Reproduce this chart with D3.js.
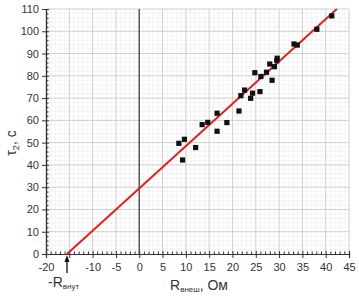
<!DOCTYPE html>
<html><head><meta charset="utf-8">
<script src="https://cdn.jsdelivr.net/npm/d3@7"></script>
<style>body{margin:0;background:#fff}svg{display:block}</style>
</head><body>
<script>
const rExt = [8.5, 9.7, 9.3, 12.1, 13.5, 14.7, 16.7, 16.7, 18.8, 21.4, 21.8, 22.6, 23.9, 24.3, 25.9, 24.8, 26.1, 27.3, 28.0, 28.5, 29.0, 29.5, 29.6, 33.2, 33.9, 38.1, 41.3];
const tau2 = [49.7, 51.5, 42.2, 47.8, 58.1, 59.1, 63.2, 55.1, 59.0, 64.2, 71.1, 73.6, 69.9, 72.2, 72.9, 81.4, 79.7, 81.6, 85.3, 78.0, 84.1, 86.8, 87.9, 94.3, 93.8, 100.9, 106.9];
const fitX = [-15.5, 42.4];
const fitY = [0, 110];
const xTicks = [-20, -15, -10, -5, 0, 5, 10, 15, 20, 25, 30, 35, 40, 45];
const xTickLabels = ["-20", "", "-10", "-5", "0", "5", "10", "15", "20", "25", "30", "35", "40", "45"];
const yTicks = [0, 10, 20, 30, 40, 50, 60, 70, 80, 90, 100, 110];

const W = 359, H = 297;
const svg = d3.select("body").append("svg").attr("width", W).attr("height", H);
const x = d3.scaleLinear().domain([-20, 45]).range([46, 349]);
const y = d3.scaleLinear().domain([0, 110]).range([254, 9]);

const font = "Liberation Sans, Arial, sans-serif";
const xMinor = d3.range(-19, 46, 1).filter(v => v % 5 !== 0);
const yMinor = d3.range(2, 111, 2).filter(v => v % 10 !== 0);
const g = svg.append("g");
g.selectAll(".vm").data(xMinor).join("line")
  .attr("x1", d => x(d)).attr("x2", d => x(d)).attr("y1", y(110)).attr("y2", y(0))
  .attr("stroke", "#ececec").attr("stroke-width", 0.6);
g.selectAll(".hm").data(yMinor).join("line")
  .attr("x1", x(-20)).attr("x2", x(45)).attr("y1", d => y(d)).attr("y2", d => y(d))
  .attr("stroke", "#ececec").attr("stroke-width", 0.6);
g.selectAll(".vM").data(xTicks.filter(v => v > -20 && v !== 0)).join("line")
  .attr("x1", d => x(d)).attr("x2", d => x(d)).attr("y1", y(110)).attr("y2", y(0))
  .attr("stroke", "#cfcfcf").attr("stroke-width", 1);
g.selectAll(".hM").data(yTicks.filter(v => v > 0)).join("line")
  .attr("x1", x(-20)).attr("x2", x(45)).attr("y1", d => y(d)).attr("y2", d => y(d))
  .attr("stroke", "#cfcfcf").attr("stroke-width", 1);

svg.append("line").attr("x1", x(0)).attr("x2", x(0)).attr("y1", y(110)).attr("y2", y(0))
  .attr("stroke", "#555").attr("stroke-width", 1.5);

const xAxis = svg.append("g").attr("transform", `translate(0,${y(0)})`)
  .call(d3.axisBottom(x).tickValues(xTicks).tickFormat((d, i) => xTickLabels[i]).tickSize(4).tickPadding(5));
const xMin = svg.append("g").attr("transform", `translate(0,${y(0)})`)
  .call(d3.axisBottom(x).tickValues(xMinor).tickSize(-2.5).tickFormat(""));
const yAxis = svg.append("g").attr("transform", `translate(${x(-20)},0)`)
  .call(d3.axisLeft(y).tickValues(yTicks).tickSize(4).tickPadding(3));
const yMin = svg.append("g").attr("transform", `translate(${x(-20)},0)`)
  .call(d3.axisLeft(y).tickValues(yMinor).tickSize(-2.5).tickFormat(""));
[xAxis, xMin, yAxis, yMin].forEach(a => {
  a.select(".domain").attr("stroke", "#333").attr("stroke-width", 1.2);
  a.selectAll(".tick line").attr("stroke", "#333");
  a.selectAll("text").attr("font-family", font).attr("font-size", 11).attr("fill", "#333");
});
xAxis.selectAll(".tick line").attr("y1", -3);
yAxis.selectAll(".tick line").attr("x1", 3);

svg.append("line")
  .attr("x1", x(fitX[0])).attr("y1", y(fitY[0]))
  .attr("x2", x(fitX[1])).attr("y2", y(fitY[1]))
  .attr("stroke", "#e0201e").attr("stroke-width", 2);

svg.selectAll(".pt").data(rExt.map((v, i) => [v, tau2[i]])).join("rect")
  .attr("x", d => x(d[0]) - 2.6).attr("y", d => y(d[1]) - 2.6)
  .attr("width", 5.2).attr("height", 5.2).attr("fill", "#111");

svg.append("text").attr("transform", "translate(16,143) rotate(-90)")
  .attr("text-anchor", "middle").attr("font-family", font).attr("font-size", 14).attr("fill", "#333")
  .html('τ<tspan font-size="9" dy="3">2</tspan><tspan dy="-3">, с</tspan>');

svg.append("text").attr("x", 170).attr("y", 290)
  .attr("font-family", font).attr("font-size", 14).attr("fill", "#333")
  .html('R<tspan font-size="8" dy="2">внеш</tspan><tspan dy="-2">, Ом</tspan>');

svg.append("text").attr("x", 48).attr("y", 287)
  .attr("font-family", font).attr("font-size", 14).attr("fill", "#333")
  .html('-R<tspan font-size="8" dy="2">внут</tspan>');
const ax = x(fitX[0]);
svg.append("line").attr("x1", ax).attr("x2", ax).attr("y1", 273).attr("y2", 259)
  .attr("stroke", "#111").attr("stroke-width", 1.3);
svg.append("path").attr("d", `M${ax},${y(0)+1} L${ax-2.5},${y(0)+8} L${ax+2.5},${y(0)+8} Z`).attr("fill", "#111");
</script>
</body></html>
